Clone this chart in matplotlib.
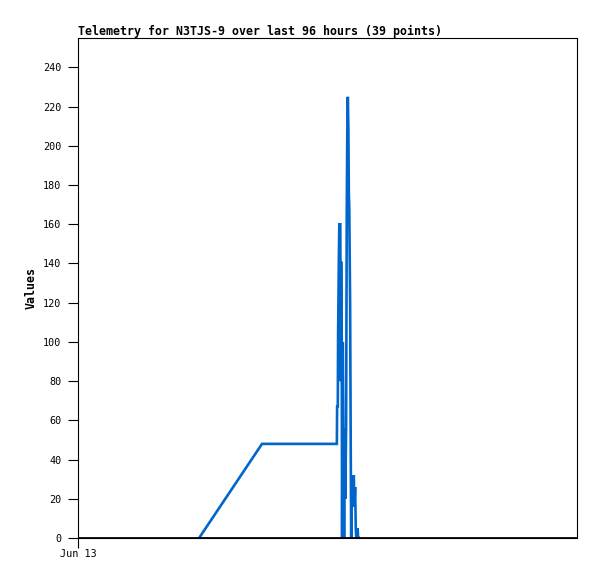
import matplotlib
matplotlib.use("Agg")
import matplotlib.pyplot as plt
import matplotlib.dates as mdates
import numpy as np
from datetime import datetime, timedelta

# telemetry samples: hours after Jun 13 00:00 and values
hours = [23.3, 35.4, 49.8, 49.85, 49.98, 50.04, 50.18, 50.27, 50.46, 50.56,
         50.62, 50.75, 50.81, 50.94, 51.04, 51.19, 51.33, 51.42, 51.58, 51.71,
         51.81, 51.91, 52.02, 52.10, 52.19, 52.35, 52.48, 52.56, 52.67, 52.79,
         52.92, 53.06, 53.17, 53.31, 53.44, 53.54, 53.79, 53.89, 54.02]
values = [0, 48, 48, 67, 67, 104, 141, 160, 160, 80,
          141, 80, 0, 100, 56, 0, 56, 20, 56, 168,
          208, 225, 208, 176, 168, 120, 40, 0, 32, 20,
          26, 32, 16, 26, 5, 0, 5, 0, 0]

start = datetime(2023, 6, 13)
times = [start + timedelta(hours=h) for h in hours]

mono = 'DejaVu Sans Mono'

fig = plt.figure(figsize=(5.97, 5.79), dpi=100)
ax = fig.add_axes([78/597, 41/579, 499/597, 500/579])

ax.plot(times, values, color='#0066cc', lw=1.9, solid_joinstyle='miter')
ax.plot([start, start + timedelta(hours=96)], [0, 0], color='black', lw=2, zorder=3)

ax.set_xlim(start, start + timedelta(hours=96))
ax.set_ylim(0, 255)
ax.set_yticks(np.arange(0, 241, 20))
ax.set_xticks([start])
ax.xaxis.set_major_formatter(mdates.DateFormatter('%b %d'))

ax.tick_params(axis='both', direction='out', length=7, width=0.8, labelsize=7.3, pad=1)
ax.tick_params(axis='y', pad=5)
for lab in ax.get_xticklabels() + ax.get_yticklabels():
    lab.set_family(mono)

for s in ax.spines.values():
    s.set_linewidth(0.8)

ax.set_ylabel('Values', family=mono, fontsize=8.4, fontweight='bold')
ax.yaxis.set_label_coords(-0.080, 0.5)
ax.set_title('Telemetry for N3TJS-9 over last 96 hours (39 points)', family=mono,
             fontsize=8.4, fontweight='bold', loc='left', pad=2)

fig.savefig('out.png', dpi=100)
